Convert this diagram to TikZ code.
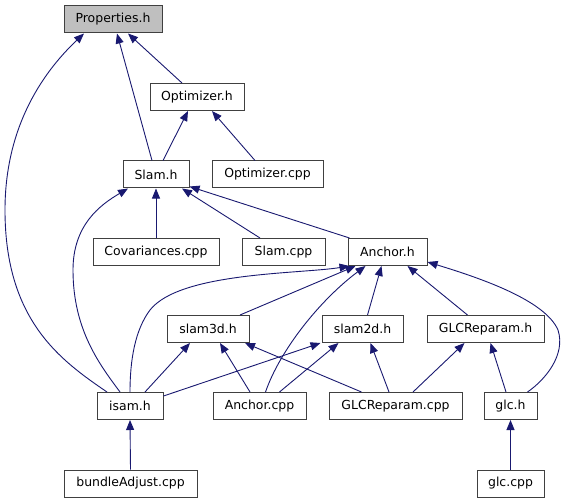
\documentclass[tikz,border=0pt]{standalone}
\usepackage{fontspec}
\setmainfont{DejaVu Sans}
\usepackage{xcolor}
\usepackage{tikz}
\usetikzlibrary{arrows.meta}
\definecolor{edgeblue}{RGB}{25,25,112}

\begin{document}
\begin{tikzpicture}[
  x=1bp, y=-1bp,
  font=\fontsize{12.5}{14}\selectfont,
  file/.style={draw=black!75, line width=1bp, inner sep=0pt, minimum height=27bp, fill=white},
  top/.style={file, fill=black!25},
  dep/.style={draw=edgeblue, line width=0.9bp, {Triangle[length=10bp,width=8bp]}-}]
\useasboundingbox (0,0) rectangle (567,504);
\node[top, minimum width=98bp] (prop) at (113,19.5) {Properties.h};
\node[file, minimum width=94bp] (opt) at (197,97) {Optimizer.h};
\node[file, minimum width=66bp] (slam) at (156,174.5) {Slam.h};
\node[file, minimum width=111bp] (optcpp) at (267.5,174.5) {Optimizer.cpp};
\node[file, minimum width=126bp] (cov) at (156,252) {Covariances.cpp};
\node[file, minimum width=83bp] (slamcpp) at (283.5,252) {Slam.cpp};
\node[file, minimum width=79bp] (anchor) at (387.5,252) {Anchor.h};
\node[file, minimum width=82bp] (slamthree) at (208,329) {slam3d.h};
\node[file, minimum width=81bp] (slamtwo) at (362.5,329) {slam2d.h};
\node[file, minimum width=117bp] (glcrh) at (485.5,329) {GLCReparam.h};
\node[file, minimum width=66bp] (isam) at (130,406) {isam.h};
\node[file, minimum width=93bp] (anchorcpp) at (259.5,406) {Anchor.cpp};
\node[file, minimum width=133bp] (glcrcpp) at (395.5,406) {GLCReparam.cpp};
\node[file, minimum width=53bp] (glch) at (510.5,406) {glc.h};
\node[file, minimum width=133bp] (bundle) at (130.5,483.5) {bundleAdjust.cpp};
\node[file, minimum width=67bp] (glccpp) at (510.5,483.5) {glc.cpp};
% straight includes, parent bottom -> child top
\foreach \p/\ps/\c/\cs in {prop/15/opt/-15, prop/4/slam/-4, opt/-9/slam/7,
    opt/15/optcpp/-12.5, slam/0/cov/0, slam/26/slamcpp/-23.5,
    anchor/-32/slamthree/32, anchor/-6/slamtwo/5, anchor/20/glcrh/-18,
    slamthree/-18/isam/15, slamthree/12/anchorcpp/-9.5, slamthree/37/glcrcpp/-34,
    slamtwo/-24/anchorcpp/20, slamtwo/8/glcrcpp/-6.5,
    glcrh/-21/glcrcpp/17.5, glcrh/5/glch/-4.5, isam/0/bundle/0, glch/0/glccpp/0}
  \draw[dep] ([xshift=\ps bp]\p.south) -- ([xshift=\cs bp]\c.north);
\draw[dep] ([yshift=2bp]slam.south east) -- ([xshift=2bp]anchor.north west);
\draw[dep] ([xshift=-42bp]slamtwo.south) -- ([yshift=10bp]isam.east);
% curved ones
\draw[dep] ([xshift=-29bp]prop.south) .. controls (40,75) and (5,130) .. (5,210)
  .. controls (5,320) and (60,360) .. ([xshift=-23bp]isam.north);
\draw[dep] ([xshift=-28bp]slam.south) .. controls (100,205) and (73,225) .. (73,270)
  .. controls (73,330) and (100,365) .. ([xshift=-10bp]isam.north);
\draw[dep] ([xshift=-38bp]anchor.south) .. controls (300,274) and (180,272) .. (150,310)
  .. controls (135,330) and (130,360) .. (isam.north);
\draw[dep] ([xshift=-22bp]anchor.south) .. controls (320,300) and (280,350) .. ([xshift=6bp]anchorcpp.north);
\draw[dep] ([yshift=-10bp]anchor.east) .. controls (480,278) and (545,300) .. (558,330)
  .. controls (566,355) and (545,380) .. ([xshift=-10bp]glch.north east);
\end{tikzpicture}
\end{document}
